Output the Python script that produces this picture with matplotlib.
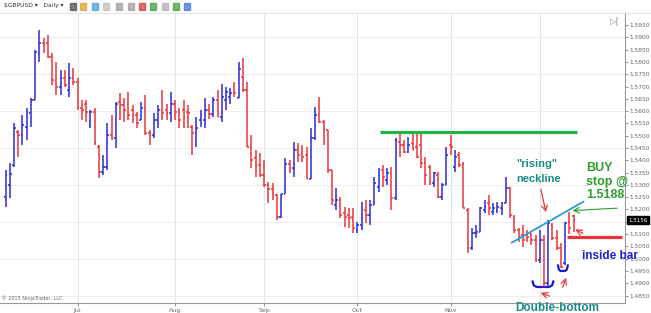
import numpy as np
import pandas as pd
import matplotlib.pyplot as plt
from matplotlib.transforms import blended_transform_factory

# daily GBPUSD bars (Jun 8 .. Dec 11, 2015)
opens = [1.5252, 1.5300, 1.5381, 1.5516, 1.5503, 1.5537, 1.5591, 1.5645, 1.5835, 1.5875,
         1.5875, 1.5821, 1.5726, 1.5699, 1.5733, 1.5686, 1.5733, 1.5720, 1.5611, 1.5631,
         1.5543, 1.5598, 1.5455, 1.5354, 1.5374, 1.5503, 1.5489, 1.5638, 1.5625, 1.5631,
         1.5604, 1.5584, 1.5564, 1.5611, 1.5510, 1.5503, 1.5564, 1.5604, 1.5604, 1.5591,
         1.5631, 1.5598, 1.5604, 1.5598, 1.5537, 1.5510, 1.5563, 1.5563, 1.5604, 1.5590,
         1.5645, 1.5577, 1.5645, 1.5658, 1.5685, 1.5652, 1.5740, 1.5685, 1.5455, 1.5408,
         1.5380, 1.5340, 1.5299, 1.5285, 1.5259, 1.5170, 1.5265, 1.5387, 1.5367, 1.5442,
         1.5429, 1.5422, 1.5326, 1.5489, 1.5584, 1.5557, 1.5523, 1.5361, 1.5218, 1.5239,
         1.5185, 1.5178, 1.5171, 1.5117, 1.5137, 1.5198, 1.5178, 1.5218, 1.5293, 1.5361,
         1.5320, 1.5347, 1.5245, 1.5476, 1.5462, 1.5435, 1.5470, 1.5455, 1.5462, 1.5388,
         1.5374, 1.5306, 1.5340, 1.5252, 1.5299, 1.5462, 1.5374, 1.5422, 1.5381, 1.5198,
         1.5042, 1.5103, 1.5110, 1.5198, 1.5225, 1.5191, 1.5198, 1.5205, 1.5225, 1.5286,
         1.5171, 1.5117, 1.5096, 1.5096, 1.5096, 1.5076, 1.4995, 1.5076, 1.4900, 1.5137,
         1.5083, 1.5042, 1.4981, 1.5150, 1.5172]
highs = [1.5361, 1.5388, 1.5550, 1.5523, 1.5584, 1.5611, 1.5652, 1.5848, 1.5930, 1.5896,
         1.5909, 1.5835, 1.5801, 1.5767, 1.5767, 1.5794, 1.5774, 1.5733, 1.5645, 1.5645,
         1.5604, 1.5611, 1.5462, 1.5422, 1.5550, 1.5584, 1.5638, 1.5672, 1.5652, 1.5679,
         1.5625, 1.5598, 1.5638, 1.5665, 1.5523, 1.5591, 1.5625, 1.5686, 1.5631, 1.5679,
         1.5645, 1.5611, 1.5645, 1.5625, 1.5543, 1.5575, 1.5604, 1.5652, 1.5631, 1.5658,
         1.5685, 1.5712, 1.5699, 1.5692, 1.5719, 1.5801, 1.5814, 1.5719, 1.5502, 1.5441,
         1.5430, 1.5401, 1.5313, 1.5306, 1.5265, 1.5265, 1.5408, 1.5401, 1.5475, 1.5469,
         1.5462, 1.5455, 1.5530, 1.5618, 1.5659, 1.5564, 1.5523, 1.5361, 1.5286, 1.5252,
         1.5212, 1.5205, 1.5205, 1.5151, 1.5232, 1.5239, 1.5239, 1.5333, 1.5367, 1.5381,
         1.5367, 1.5374, 1.5489, 1.5510, 1.5483, 1.5496, 1.5510, 1.5510, 1.5510, 1.5415,
         1.5381, 1.5353, 1.5353, 1.5306, 1.5455, 1.5503, 1.5442, 1.5435, 1.5394, 1.5205,
         1.5123, 1.5137, 1.5211, 1.5239, 1.5259, 1.5225, 1.5232, 1.5232, 1.5333, 1.5293,
         1.5178, 1.5123, 1.5137, 1.5117, 1.5103, 1.5096, 1.5117, 1.5096, 1.5157, 1.5144,
         1.5117, 1.5062, 1.5150, 1.5188, 1.5178]
lows = [1.5212, 1.5246, 1.5374, 1.5415, 1.5462, 1.5482, 1.5537, 1.5645, 1.5801, 1.5835,
        1.5815, 1.5706, 1.5665, 1.5665, 1.5699, 1.5658, 1.5706, 1.5604, 1.5564, 1.5557,
        1.5530, 1.5462, 1.5327, 1.5340, 1.5361, 1.5482, 1.5449, 1.5564, 1.5557, 1.5564,
        1.5550, 1.5530, 1.5564, 1.5503, 1.5462, 1.5489, 1.5530, 1.5564, 1.5564, 1.5557,
        1.5564, 1.5530, 1.5530, 1.5530, 1.5422, 1.5455, 1.5536, 1.5530, 1.5570, 1.5577,
        1.5577, 1.5557, 1.5604, 1.5631, 1.5658, 1.5652, 1.5679, 1.5455, 1.5367, 1.5333,
        1.5333, 1.5292, 1.5225, 1.5238, 1.5157, 1.5164, 1.5265, 1.5347, 1.5333, 1.5394,
        1.5394, 1.5326, 1.5326, 1.5483, 1.5550, 1.5462, 1.5347, 1.5218, 1.5198, 1.5164,
        1.5130, 1.5124, 1.5103, 1.5103, 1.5117, 1.5144, 1.5137, 1.5218, 1.5273, 1.5293,
        1.5300, 1.5198, 1.5239, 1.5415, 1.5428, 1.5428, 1.5442, 1.5408, 1.5367, 1.5299,
        1.5299, 1.5293, 1.5245, 1.5239, 1.5299, 1.5422, 1.5353, 1.5374, 1.5205, 1.5022,
        1.5035, 1.5083, 1.5110, 1.5184, 1.5178, 1.5178, 1.5184, 1.5178, 1.5225, 1.5164,
        1.5103, 1.5069, 1.5049, 1.5069, 1.5056, 1.4988, 1.4981, 1.4886, 1.4886, 1.5076,
        1.5035, 1.4961, 1.4975, 1.5100, 1.5110]
closes = [1.5340, 1.5345, 1.5530, 1.5503, 1.5543, 1.5598, 1.5645, 1.5841, 1.5875, 1.5868,
          1.5821, 1.5726, 1.5699, 1.5733, 1.5706, 1.5733, 1.5720, 1.5611, 1.5604, 1.5598,
          1.5598, 1.5469, 1.5354, 1.5374, 1.5503, 1.5489, 1.5631, 1.5625, 1.5604, 1.5584,
          1.5584, 1.5550, 1.5611, 1.5510, 1.5503, 1.5564, 1.5604, 1.5591, 1.5591, 1.5631,
          1.5598, 1.5564, 1.5577, 1.5591, 1.5510, 1.5530, 1.5584, 1.5604, 1.5590, 1.5645,
          1.5577, 1.5658, 1.5679, 1.5672, 1.5672, 1.5773, 1.5685, 1.5455, 1.5401, 1.5375,
          1.5340, 1.5299, 1.5285, 1.5259, 1.5170, 1.5265, 1.5387, 1.5367, 1.5441, 1.5422,
          1.5415, 1.5326, 1.5489, 1.5584, 1.5557, 1.5523, 1.5361, 1.5239, 1.5239, 1.5178,
          1.5171, 1.5164, 1.5124, 1.5137, 1.5164, 1.5178, 1.5218, 1.5306, 1.5340, 1.5333,
          1.5347, 1.5245, 1.5483, 1.5462, 1.5435, 1.5462, 1.5442, 1.5415, 1.5388, 1.5340,
          1.5306, 1.5347, 1.5252, 1.5299, 1.5422, 1.5455, 1.5415, 1.5381, 1.5205, 1.5042,
          1.5103, 1.5110, 1.5205, 1.5211, 1.5205, 1.5205, 1.5211, 1.5225, 1.5286, 1.5178,
          1.5117, 1.5090, 1.5076, 1.5090, 1.5076, 1.4995, 1.5076, 1.4900, 1.5144, 1.5083,
          1.5042, 1.4968, 1.5144, 1.5123, 1.5156]

last_price = 1.5156
resistance = 1.5516
buy_stop = 1.5188

dates = pd.bdate_range('2015-06-08', periods=len(opens))

BLUE = '#2a2ad2'
RED = '#e83438'
GREEN = '#22b24c'
TEAL = '#1b8c86'
GRAY = '#666666'

fig = plt.figure(figsize=(6.51, 3.13), dpi=100)
fig.patch.set_facecolor('white')
ax = fig.add_axes([0, 10.3 / 313, 625 / 651, 289.7 / 313])

o = np.array(opens)
h = np.array(highs)
l = np.array(lows)
c = np.array(closes)
x = np.arange(len(o))
cols = np.where(c >= o, BLUE, RED)

ax.vlines(x, l, h, colors=cols, lw=1.1, zorder=3)
ax.hlines(o, x - 0.42, x, colors=cols, lw=1.1, zorder=3)
ax.hlines(c, x, x + 0.42, colors=cols, lw=1.1, zorder=3)

ax.set_xlim(-1.3, 146.1)
ax.set_ylim(1.4821, 1.5999)

# month ticks at the first bar of every month (Dec label sits under the note)
month = dates.month
firsts = [i for i in range(1, len(dates)) if month[i] != month[i - 1]]
ax.set_xticks(firsts)
ax.set_xticklabels([dates[i].strftime('%b') if month[i] != 12 else '' for i in firsts])
for i in firsts:
    ax.axvline(i, color='#e4e4e4', lw=0.7, zorder=0)
for p in np.arange(1.4850, 1.5951, 0.015):
    ax.axhline(p, color='#ececec', lw=0.7, zorder=0)

yt = np.arange(1.4850, 1.59501, 0.005)
ax.yaxis.tick_right()
ax.set_yticks(yt)
# the 1.5150 label is covered by the last-price box
ax.set_yticklabels(['' if abs(v - 1.5150) < 1e-6 else '%.4f' % v for v in yt])
ax.tick_params(axis='both', labelsize=4.2, colors=GRAY, length=2, width=0.5, pad=1.5)
ax.tick_params(axis='x', labelsize=4.5, pad=2)
for s in ['left', 'top']:
    ax.spines[s].set_visible(False)
ax.spines['right'].set_color('#999999')
ax.spines['bottom'].set_color('#999999')
ax.spines['right'].set_linewidth(0.8)
ax.spines['bottom'].set_linewidth(0.8)

# current price marker
tr = blended_transform_factory(ax.transAxes, ax.transData)
ax.text(1.006, last_price, '%.4f' % last_price, transform=tr, fontsize=4, color='white',
        va='center', ha='left', clip_on=False,
        bbox=dict(boxstyle='square,pad=0.25', fc='black', ec='black'))

# annotations
ax.plot([88.3, 134.8], [resistance, resistance], color=GREEN, lw=2.3, zorder=4,
        solid_capstyle='butt')
ax.plot([119.4, 136.3], [1.5065, 1.5232], color='#2a9bd6', lw=1.3, zorder=4)
ax.plot([132.4, 145.3], [1.5089, 1.5089], color=RED, lw=2.3, zorder=4,
        solid_capstyle='butt', clip_on=False)

ax.text(125.2, 1.5385, '"rising"', color=TEAL, fontsize=8, fontweight='bold',
        ha='center', va='center', family='Liberation Sans')
ax.text(125.6, 1.5324, 'neckline', color=TEAL, fontsize=8, fontweight='bold',
        ha='center', va='center', family='Liberation Sans')
ax.annotate('', xy=(127.6, 1.5178), xytext=(126.1, 1.5293),
            arrowprops=dict(arrowstyle='->', color=RED, lw=0.9))

for txt, yy in [('BUY', 1.5369), ('stop @', 1.5312), ('1.5188', 1.5259)]:
    ax.text(136.9, yy, txt, color='#2e9d2e', fontsize=9, fontweight='bold',
            ha='left', va='center', family='Liberation Sans', clip_on=False)
ax.annotate('', xy=(133.1, 1.5195), xytext=(144.9, 1.5206),
            arrowprops=dict(arrowstyle='->', color='#2e9d2e', lw=0.8))

ax.annotate('', xy=(133.8, 1.5125), xytext=(136.7, 1.5097),
            arrowprops=dict(arrowstyle='->', color=RED, lw=0.9))
ax.text(135.9, 1.5011, 'inside bar', color='#2020d0', fontsize=8.5, fontweight='bold',
        ha='left', va='center', family='Liberation Sans', clip_on=False)

# double bottom brackets
p = lambda yy: 1.5950 - (yy - 25) / 2460
ax.plot([124.3, 124.6, 125.3, 128.2, 128.9, 129.2],
        [p(281.5), p(285.5), p(287), p(287), p(285.5), p(281.5)], color='#1a1ad0', lw=1.6)
ax.plot([130.3, 130.5, 130.9, 132.0, 132.4, 132.6],
        [p(265.5), p(269.5), p(271), p(271), p(269.5), p(265.5)], color='#1a1ad0', lw=1.6)
ax.annotate('', xy=(125.6, 1.4865), xytext=(128.9, 1.4844),
            arrowprops=dict(arrowstyle='->', color=RED, lw=0.9))
ax.annotate('', xy=(132.4, 1.4933), xytext=(131.2, 1.4873),
            arrowprops=dict(arrowstyle='->', color=RED, lw=0.9))
ax.text(130.1, 1.4800, 'Double-bottom', color=TEAL, fontsize=8.5, fontweight='bold',
        ha='center', va='center', family='Liberation Sans', clip_on=False, zorder=6)

# chrome
fig.text(2 / 651, 1 - 298 / 313, '\u00a9 2015 NinjaTrader, LLC', fontsize=3.5, color=GRAY,
         va='center')
fig.text(615 / 651, 1 - 22 / 313, '\u25b7|', fontsize=6, color='#888888', va='center',
         ha='center')
fig.text(4 / 651, 1 - 6 / 313, '$GBPUSD \u25be   Daily \u25be', fontsize=4.3, color='#333333',
         va='center')
fig.add_artist(plt.Line2D([0, 1], [1 - 12.5 / 313] * 2, color='#dddddd', lw=0.6))
icon_x = [70, 80, 92, 103, 116, 128, 139, 150, 162, 173, 184]
icon_c = ['#444444', '#d8a020', '#3a9ad8', '#bbbbbb', '#999999', '#999999', '#d03030',
          '#3a9a3a', '#aaaaaa', '#3a9a3a', '#3a6ad8']
for xx, cc in zip(icon_x, icon_c):
    fig.add_artist(plt.Rectangle((xx / 651, 1 - 9.5 / 313), 6 / 651, 6 / 313, color=cc,
                                 alpha=0.7))

fig.savefig('out.png', dpi=100)
